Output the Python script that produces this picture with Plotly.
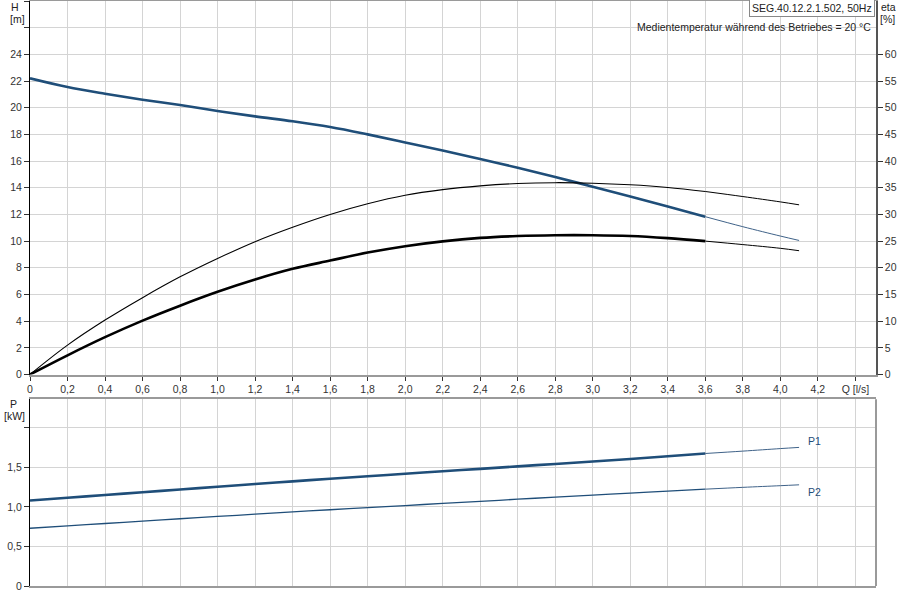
import plotly.graph_objs as go

# Flow rate Q [l/s] at which all curves were read
Q = [0.0, 0.2, 0.4, 0.6, 0.8, 1.0, 1.2, 1.4, 1.6, 1.8, 2.0,
     2.2, 2.4, 2.6, 2.8, 3.0, 3.2, 3.4, 3.6, 3.8, 4.0, 4.1]
# Head H [m]
HEAD = [22.2, 21.55, 21.05, 20.6, 20.2, 19.76, 19.35, 18.98, 18.55, 18.0, 17.4,
        16.8, 16.15, 15.5, 14.8, 14.08, 13.35, 12.6, 11.83, 11.08, 10.38, 10.05]
# Efficiencies eta [%]
ETA_PUMP = [0.0, 5.5, 10.2, 14.4, 18.3, 21.75, 24.9, 27.6, 30.0, 32.0, 33.6,
            34.65, 35.35, 35.8, 35.95, 35.85, 35.55, 35.05, 34.3, 33.35, 32.35, 31.8]
ETA_TOTAL = [0.0, 3.6, 7.0, 10.1, 12.9, 15.5, 17.8, 19.8, 21.35, 22.85, 24.05,
             24.95, 25.6, 25.95, 26.1, 26.1, 25.95, 25.55, 25.0, 24.35, 23.65, 23.2]
# Power P [kW]
P1 = [1.08, 1.115, 1.15, 1.185, 1.22, 1.255, 1.29, 1.323, 1.355, 1.387, 1.419,
      1.45, 1.481, 1.512, 1.543, 1.574, 1.605, 1.64, 1.675, 1.705, 1.737, 1.752]
P2 = [0.73, 0.76, 0.79, 0.82, 0.85, 0.879, 0.908, 0.937, 0.964, 0.99, 1.017,
      1.044, 1.07, 1.097, 1.123, 1.148, 1.174, 1.2, 1.224, 1.247, 1.268, 1.279]

Q_TICKS = [0.0, 0.2, 0.4, 0.6, 0.8, 1.0, 1.2, 1.4, 1.6, 1.8, 2.0,
           2.2, 2.4, 2.6, 2.8, 3.0, 3.2, 3.4, 3.6, 3.8, 4.0, 4.2, 4.4]
Q_LABELS = ["0", "0,2", "0,4", "0,6", "0,8", "1,0", "1,2", "1,4", "1,6", "1,8", "2,0",
            "2,2", "2,4", "2,6", "2,8", "3,0", "3,2", "3,4", "3,6", "3,8", "4,0", "4,2", "Q [l/s]"]
H_TICKS = list(range(0, 30, 2))
H_LABELS = [str(v) for v in range(0, 26, 2)] + ["", ""]
ETA_TICKS = list(range(0, 65, 5))
P_TICKS = [0, 0.5, 1.0, 1.5, 2.0]
P_LABELS = ["0", "0,5", "1,0", "1,5", ""]

SPLIT = Q.index(3.6)  # thick line ends at the duty range
BLUE = "#1f4e79"
GRID = "#d4d4d4"
FONT = "Liberation Sans, Arial, sans-serif"
SIZE = 10.5

# pixel frame of the plotting area inside the 900x600 page
L, R, T, B = 30, 876, 1, 586


def px(x, y):
    """Convert page pixel coordinates into paper coordinates."""
    return (x - L) / (R - L), (B - y) / (B - T)


def add_split(fig, x, y, color, thick, thin, xaxis, yaxis, thin_color=None):
    """Draw a curve thick up to SPLIT and thin beyond it."""
    fig.add_trace(go.Scatter(x=x[:SPLIT + 1], y=y[:SPLIT + 1], mode="lines",
                             line=dict(color=color, width=thick, shape="spline"),
                             xaxis=xaxis, yaxis=yaxis, hoverinfo="skip"))
    fig.add_trace(go.Scatter(x=x[SPLIT:], y=y[SPLIT:], mode="lines",
                             line=dict(color=thin_color or color, width=thin, shape="spline"),
                             xaxis=xaxis, yaxis=yaxis, hoverinfo="skip"))


def make_figure() -> go.Figure:
    fig = go.Figure()
    add_split(fig, Q, ETA_PUMP, "black", 1.1, 1.0, "x", "y2")
    add_split(fig, Q, ETA_TOTAL, "black", 2.6, 1.0, "x", "y2")
    add_split(fig, Q, HEAD, BLUE, 2.6, 1.0, "x", "y", "#3f6288")
    add_split(fig, Q, P1, BLUE, 2.6, 1.0, "x2", "y3", "#3f6288")
    add_split(fig, Q, P2, BLUE, 1.3, 1.0, "x2", "y3", "#3f6288")

    top_lo = (B - 374.5) / (B - T)
    bot_hi = (B - 399.3) / (B - T)
    tick_font = dict(family=FONT, size=SIZE, color="#333")
    common_x = dict(range=[0, 4.51], tickvals=Q_TICKS, showgrid=True, gridcolor=GRID,
                    zeroline=False, showline=True, linecolor="#9a9a9a", linewidth=2,
                    mirror=True, tickfont=tick_font, automargin=False)

    fig.update_layout(
        width=900, height=600,
        margin=dict(l=L, r=900 - R, t=T, b=600 - B, autoexpand=False),
        paper_bgcolor="white", plot_bgcolor="white",
        showlegend=False,
        font=dict(family=FONT, size=SIZE, color="#222"),
        xaxis=dict(common_x, domain=[0, 1], anchor="y", ticktext=Q_LABELS,
                   ticks="outside", ticklen=4, tickcolor="#333"),
        yaxis=dict(domain=[top_lo, 1], range=[0, 28], tickvals=H_TICKS, ticktext=H_LABELS,
                   showgrid=True, gridcolor=GRID, zeroline=False, showline=True,
                   linecolor="black", linewidth=1, ticks="outside", ticklen=5,
                   tickcolor="#333", tickfont=tick_font, automargin=False),
        yaxis2=dict(overlaying="y", side="right", range=[0, 70], tickvals=ETA_TICKS,
                    showgrid=False, zeroline=False, showline=True, linecolor="#555",
                    linewidth=1.5, ticks="outside", ticklen=5, tickcolor="#333",
                    tickfont=tick_font, anchor="x", automargin=False),
        xaxis2=dict(common_x, domain=[0, 1], anchor="y3", showticklabels=False, ticks=""),
        yaxis3=dict(domain=[0, bot_hi], range=[0, 2.36], tickvals=P_TICKS, ticktext=P_LABELS,
                    showgrid=True, gridcolor=GRID, zeroline=False, showline=True,
                    linecolor="black", linewidth=1, ticks="outside", ticklen=5,
                    tickcolor="#333", tickfont=tick_font, anchor="x2", automargin=False),
    )
    fig.add_shape(type="line", xref="x2 domain", yref="y3 domain", x0=1, x1=1, y0=0, y1=1,
                  line=dict(color="#9a9a9a", width=2))

    labels = [
        ("H", 15, 7, "center", "#222"), ("[m]", 17, 19, "center", "#222"),
        ("eta", 888, 7, "center", "#222"), ("[%]", 887, 19, "center", "#222"),
        ("P", 13, 404, "center", "#222"), ("[kW]", 14, 416, "center", "#222"),
        ("P1", 806, 441, "left", BLUE), ("P2", 806, 492, "left", BLUE),
    ]
    for text, x, y, anchor, color in labels:
        xp, yp = px(x, y)
        fig.add_annotation(text=text, x=xp, y=yp, xref="paper", yref="paper",
                           xanchor=anchor, yanchor="middle", showarrow=False,
                           font=dict(size=SIZE, color=color))

    xp, yp = px(873, 27)
    fig.add_annotation(text="Medientemperatur während des Betriebes = 20 °C", x=xp, y=yp,
                       xref="paper", yref="paper", xanchor="right", yanchor="middle",
                       showarrow=False, font=dict(size=SIZE, color="#222"))
    xp, yp = px(875, 8)
    fig.add_annotation(text="SEG.40.12.2.1.502, 50Hz", x=xp, y=yp, xref="paper", yref="paper",
                       xanchor="right", yanchor="middle", showarrow=False,
                       bordercolor="#888", borderwidth=1, borderpad=2, bgcolor="white",
                       font=dict(size=SIZE, color="#222"))
    return fig


if __name__ == "__main__":
    fig = make_figure()
    # the page body has a default margin; remove it so the chart fills the window
    fig.write_html("out.html", config={"displayModeBar": False},
                   post_script="document.body.style.margin='0px';"
                               "document.body.style.overflow='hidden';")
